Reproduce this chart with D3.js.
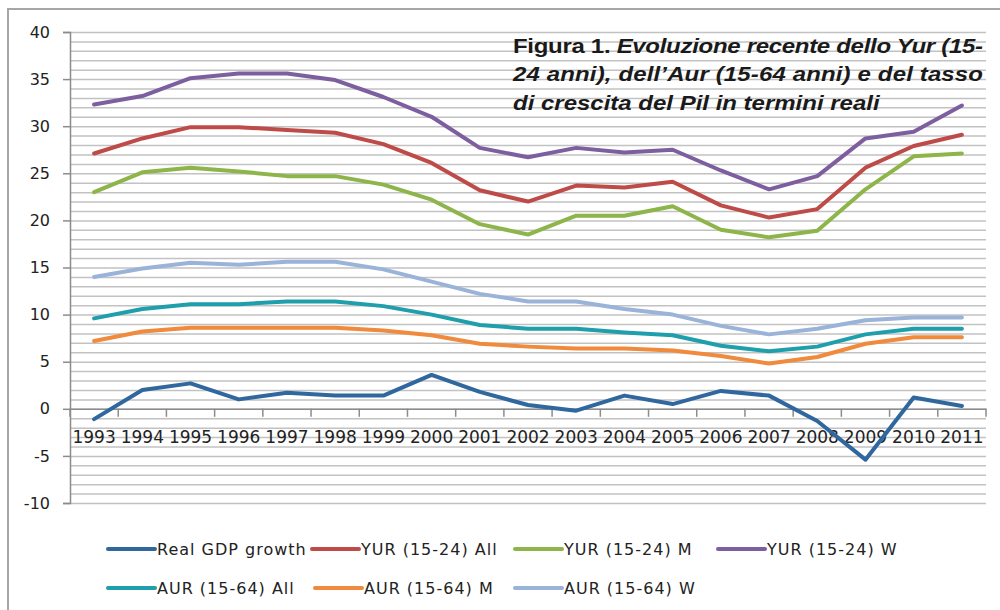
<!DOCTYPE html>
<html>
<head>
<meta charset="utf-8">
<script src="https://cdn.jsdelivr.net/npm/d3@7"></script>
<style>
  html, body { margin: 0; padding: 0; background: #fff; }
  svg { display: block; }
</style>
</head>
<body>
<svg id="chart" width="1000" height="610"></svg>
<script>
// ---- data ----
const years = ["1993","1994","1995","1996","1997","1998","1999","2000","2001","2002",
               "2003","2004","2005","2006","2007","2008","2009","2010","2011"];
const realGdpGrowth = [-1.1, 2.0, 2.7, 1.0, 1.7, 1.4, 1.4, 3.6, 1.8, 0.4, -0.2, 1.4, 0.5, 1.9, 1.4, -1.3, -5.4, 1.2, 0.3];
const yurAll = [27.1, 28.7, 29.9, 29.9, 29.6, 29.3, 28.1, 26.1, 23.2, 22.0, 23.7, 23.5, 24.1, 21.6, 20.3, 21.2, 25.6, 27.9, 29.1];
const yurM   = [23.0, 25.1, 25.6, 25.2, 24.7, 24.7, 23.8, 22.2, 19.6, 18.5, 20.5, 20.5, 21.5, 19.0, 18.2, 18.9, 23.3, 26.8, 27.1];
const yurW   = [32.3, 33.2, 35.1, 35.6, 35.6, 34.9, 33.1, 31.0, 27.7, 26.7, 27.7, 27.2, 27.5, 25.3, 23.3, 24.7, 28.7, 29.4, 32.2];
const aurAll = [9.6, 10.6, 11.1, 11.1, 11.4, 11.4, 10.9, 10.0, 8.9, 8.5, 8.5, 8.1, 7.8, 6.7, 6.1, 6.6, 7.9, 8.5, 8.5];
const aurM   = [7.2, 8.2, 8.6, 8.6, 8.6, 8.6, 8.3, 7.8, 6.9, 6.6, 6.4, 6.4, 6.2, 5.6, 4.8, 5.5, 6.9, 7.6, 7.6];
const aurW   = [14.0, 14.9, 15.5, 15.3, 15.6, 15.6, 14.8, 13.5, 12.2, 11.4, 11.4, 10.6, 10.0, 8.8, 7.9, 8.5, 9.4, 9.7, 9.7];
const seriesNames = ["Real GDP growth", "YUR (15-24) All", "YUR (15-24) M", "YUR (15-24) W",
                     "AUR (15-64) All", "AUR (15-64) M", "AUR (15-64) W"];
const seriesValues = [realGdpGrowth, yurAll, yurM, yurW, aurAll, aurM, aurW];
const yTickLabels = [-10, -5, 0, 5, 10, 15, 20, 25, 30, 35, 40];
const titleLines = [
  [["Figura 1. ", "normal"], ["Evoluzione recente dello Yur (15-", "italic"]],
  [["24 anni), dell\u2019Aur (15-64 anni) e del tasso", "italic"]],
  [["di crescita del Pil in termini reali", "italic"]]
];

// ---- styles ----
const colors = ["#30679e", "#be4b48", "#8db54a", "#7d5f9f", "#1f9eab", "#f08a3c", "#9ab3d9"];
const svg = d3.select("#chart");
const plot = { left: 70, right: 986, top: 32, bottom: 503 };

// frame
svg.append("path")
  .attr("d", "M8,610 L8,9 L1000,9")
  .attr("fill", "none").attr("stroke", "#a6a6a6").attr("stroke-width", 2);

const x = d3.scaleBand().domain(years).range([plot.left, plot.right]);
const y = d3.scaleLinear().domain([-10, 40]).range([plot.bottom, plot.top]);
const cx = d => x(d) + x.bandwidth() / 2;

// minor gridlines every unit
const gridVals = d3.range(-10, 41, 1);
svg.append("g")
  .attr("transform", `translate(${plot.left},0)`)
  .call(d3.axisLeft(y).tickValues(gridVals).tickSize(-(plot.right - plot.left)).tickFormat(""))
  .call(g => g.select(".domain").remove())
  .call(g => g.selectAll(".tick line").attr("stroke", "#c2c2c2").attr("stroke-width", 1.5));

// title (over gridlines), justified block
const titleScale = 1.2;
const titleWidth = 470;
const title = svg.append("g").attr("transform", `translate(513,0) scale(${titleScale},1)`);
titleLines.forEach((line, i) => {
  const t = title.append("text")
    .attr("x", 0).attr("y", 53 + i * 28.5)
    .attr("font-family", "'Liberation Sans', Arial, sans-serif")
    .attr("font-size", 20).attr("font-weight", "bold").attr("fill", "#1a1a1a");
  if (i < titleLines.length - 1) {
    t.attr("textLength", titleWidth / titleScale).attr("lengthAdjust", "spacing");
  }
  line.forEach(([txt, style]) => {
    t.append("tspan").attr("font-style", style).text(txt);
  });
});

// y axis
svg.append("g")
  .attr("transform", `translate(${plot.left},0)`)
  .call(d3.axisLeft(y).tickValues(yTickLabels).tickSize(7).tickPadding(13).tickFormat(d => String(d)))
  .call(g => g.select(".domain").attr("stroke", "#8c8c8c").attr("stroke-width", 1.5))
  .call(g => g.selectAll(".tick line").attr("stroke", "#8c8c8c").attr("stroke-width", 1.5))
  .call(g => g.selectAll(".tick text")
    .attr("font-family", "'DejaVu Sans', sans-serif").attr("font-size", 16).attr("fill", "#222"));

// x axis at zero
const xAxisG = svg.append("g").attr("transform", `translate(0,${y(0)})`);
xAxisG.call(d3.axisBottom(x).tickSize(0).tickPadding(22))
  .call(g => g.select(".domain").attr("stroke", "#8c8c8c").attr("stroke-width", 1.5))
  .call(g => g.selectAll(".tick text")
    .attr("font-family", "'DejaVu Sans', sans-serif").attr("font-size", 17).attr("fill", "#222"));
const boundaries = years.map(d => x(d)).concat([plot.right]);
xAxisG.selectAll("line.bt").data(boundaries).enter().append("line")
  .attr("class", "bt")
  .attr("x1", d => d).attr("x2", d => d).attr("y1", 0).attr("y2", 8)
  .attr("stroke", "#8c8c8c").attr("stroke-width", 1.5);

// lines
const lineGen = d3.line().x((d, i) => cx(years[i])).y(d => y(d));
const drawOrder = [6, 5, 4, 3, 2, 1, 0];
drawOrder.forEach(k => {
  svg.append("path")
    .datum(seriesValues[k])
    .attr("d", lineGen)
    .attr("fill", "none")
    .attr("stroke", colors[k])
    .attr("stroke-width", 4)
    .attr("stroke-linejoin", "round")
    .attr("stroke-linecap", "round");
});

// legend
const legendPos = [[108, 549], [312, 549], [515, 549], [718, 549], [108, 588], [315, 588], [515, 588]];
seriesNames.forEach((name, k) => {
  const [lx, ly] = legendPos[k];
  const g = svg.append("g").attr("transform", `translate(${lx},${ly})`);
  g.append("line").attr("x1", 0).attr("x2", 47).attr("y1", 0).attr("y2", 0)
    .attr("stroke", colors[k]).attr("stroke-width", 4).attr("stroke-linecap", "round");
  g.append("text").attr("x", 49).attr("y", 6)
    .attr("font-family", "'DejaVu Sans', sans-serif").attr("font-size", 16)
    .attr("letter-spacing", 1).attr("fill", "#222")
    .text(name);
});
</script>
</body>
</html>
